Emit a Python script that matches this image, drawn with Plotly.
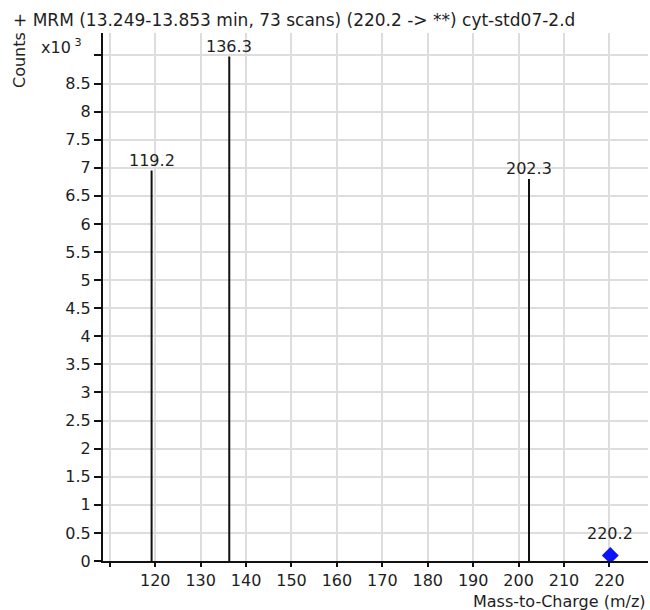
import plotly.graph_objects as go

# ---- data ----
peak_mz = [119.2, 136.3, 202.3]
peak_counts = [6.95, 8.98, 6.80]          # x10^3
peak_labels = ["119.2", "136.3", "202.3"]

precursor_mz = [220.2]
precursor_counts = [0.10]
precursor_labels = ["220.2"]

x_tick_vals = [110, 120, 130, 140, 150, 160, 170, 180, 190, 200, 210, 220]
x_tick_text = [" ", "120", "130", "140", "150", "160", "170", "180", "190", "200", "210", "220"]
y_tick_vals = [0, 0.5, 1, 1.5, 2, 2.5, 3, 3.5, 4, 4.5, 5, 5.5, 6, 6.5, 7, 7.5, 8, 8.5, 9]
y_tick_text = ["0", "0.5", "1", "1.5", "2", "2.5", "3", "3.5", "4", "4.5", "5", "5.5",
               "6", "6.5", "7", "7.5", "8", "8.5", " "]

title_text = "+ MRM (13.249-13.853 min, 73 scans) (220.2 -> **) cyt-std07-2.d"
x_title = "Mass-to-Charge (m/z)"
y_title = "Counts"

FONT = "DejaVu Sans"
TXT = "#1e1e1e"

# stems
sx, sy = [], []
for m, c in zip(peak_mz, peak_counts):
    sx += [m, m, None]
    sy += [0, c, None]

fig = go.Figure()
fig.add_trace(go.Scatter(x=sx, y=sy, mode="lines",
                         line=dict(color="#111111", width=2), hoverinfo="skip",
                         showlegend=False))
fig.add_trace(go.Scatter(x=precursor_mz, y=precursor_counts, mode="markers",
                         marker=dict(symbol="diamond", size=13, color="#0a14ff"),
                         showlegend=False))

annotations = []
for m, c, t in zip(peak_mz, peak_counts, peak_labels):
    annotations.append(dict(x=m, y=c, xref="x", yref="y", text=t, showarrow=False,
                            yanchor="bottom", yshift=-1,
                            font=dict(family=FONT, size=16, color=TXT)))
for m, c, t in zip(precursor_mz, precursor_counts, precursor_labels):
    annotations.append(dict(x=m, y=c, xref="x", yref="y", text=t, showarrow=False,
                            yanchor="bottom", yshift=10,
                            font=dict(family=FONT, size=16, color=TXT)))

# title and axis texts (pixel positions, converted below)
pix = [
    dict(x=11, y=20, text=title_text, xanchor="left", size=17, angle=0),
    dict(x=19, y=60, text=y_title, xanchor="center", size=16, angle=-90),
    dict(x=39, y=47, text="x10<sup> 3</sup>", xanchor="left", size=16, angle=0),
    dict(x=648, y=601, text=x_title, xanchor="right", size=16, angle=0),
]

W, H = 650, 610
L, R, T, B = 103, 2, 33, 49
pw, ph = W - L - R, H - T - B
for p in pix:
    annotations.append(dict(
        x=(p["x"] - L) / pw, y=1 - (p["y"] - T) / ph, xref="paper", yref="paper",
        text=p["text"], textangle=p["angle"], showarrow=False,
        xanchor=p["xanchor"], yanchor="middle",
        font=dict(family=FONT, size=p["size"], color=TXT)))

fig.update_layout(
    width=W, height=H,
    margin=dict(l=L, r=R, t=T, b=B),
    paper_bgcolor="white", plot_bgcolor="white",
    font=dict(family=FONT, size=16, color=TXT),
    annotations=annotations,
    showlegend=False,
)
fig.update_xaxes(range=[108.5, 228.5], tickmode="array", tickvals=x_tick_vals,
                 ticktext=x_tick_text, showgrid=True, gridcolor="#dddddd", gridwidth=1.5,
                 showline=True, linecolor="#111111", linewidth=2,
                 ticks="outside", ticklen=4, tickwidth=1.5, tickcolor="#111111",
                 zeroline=False, tickfont=dict(family=FONT, size=16, color=TXT))
fig.update_yaxes(range=[0, 9.4], tickmode="array", tickvals=y_tick_vals,
                 ticktext=y_tick_text, showgrid=True, gridcolor="#dddddd", gridwidth=1.5,
                 showline=True, linecolor="#111111", linewidth=2,
                 ticks="outside", ticklen=7, tickwidth=1.5, tickcolor="#111111",
                 zeroline=False, tickfont=dict(family=FONT, size=16, color=TXT))

fig.write_html("out.html")
